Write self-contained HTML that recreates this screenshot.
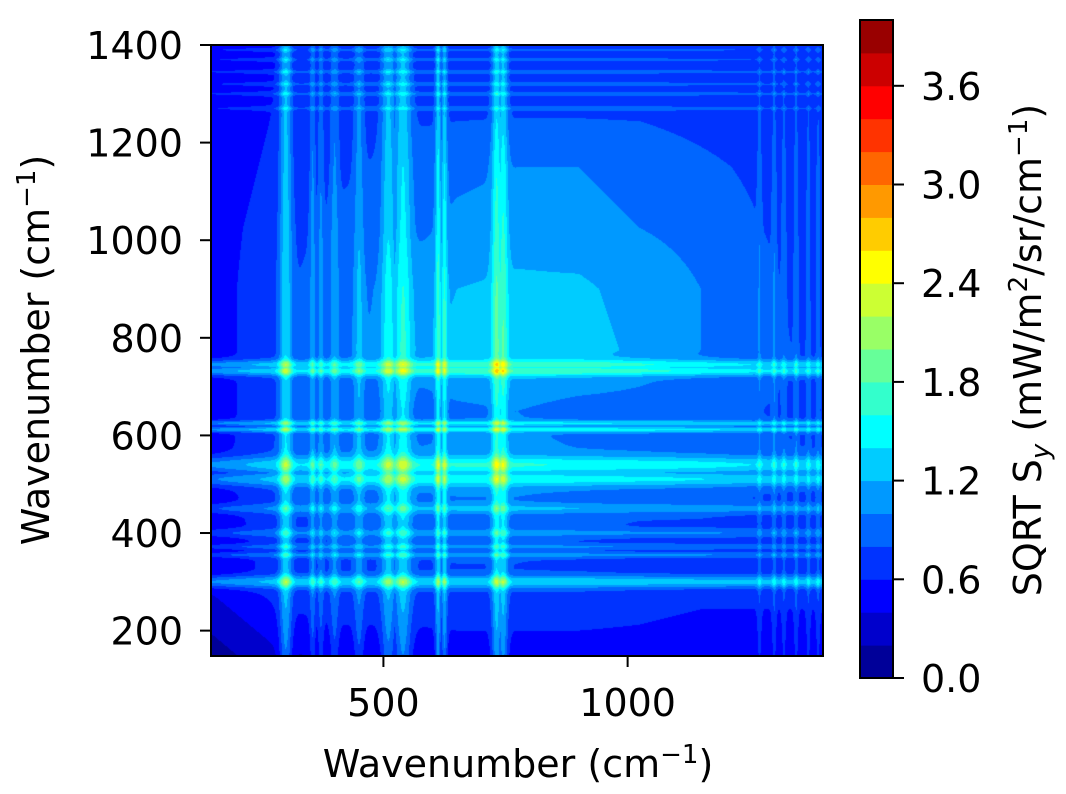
<!DOCTYPE html>
<html><head><meta charset="utf-8"><style>
body{margin:0;background:#fff;width:1066px;height:794px;overflow:hidden;position:relative;font-family:"Liberation Sans","DejaVu Sans",sans-serif}
canvas{position:absolute;left:211px;top:45px}
svg{position:absolute;left:0;top:0}
text{font-family:"DejaVu Sans","Liberation Sans",sans-serif;fill:#000}
</style></head><body>
<canvas id="hm" width="612" height="611"></canvas>
<svg id="ov" width="1066" height="794"></svg>
<script>
// ---- data ----
const xRange=[147,1400];
const yRange=[148,1400];
const levels=[0,0.2,0.4,0.6,0.8,1.0,1.2,1.4,1.6,1.8,2.0,2.2,2.4,2.6,2.8,3.0,3.2,3.4,3.6,3.8,4.0];
const xTicks=[500,1000];
const yTicks=[200,400,600,800,1000,1200,1400];
const cbTicks=[0.0,0.6,1.2,1.8,2.4,3.0,3.6];
const bgGridW=[150,275,400,525,650,775,900,1025,1150,1275,1400];
const bgRows=[ // y from 150 (first) to 1400 (last)
[0.1,0.35,0.45,0.45,0.5,0.5,0.5,0.5,0.45,0.45,0.45],
[0.4,0.65,0.75,0.75,0.75,0.75,0.75,0.7,0.65,0.65,0.65],
[0.45,0.7,0.8,0.8,0.85,0.85,0.8,0.75,0.75,0.7,0.7],
[0.5,0.8,0.95,1.05,1.1,1.1,1.05,1.0,0.95,0.85,0.8],
[0.5,0.75,0.9,0.85,0.95,1.0,0.9,0.9,0.85,0.8,0.75],
[0.5,0.75,0.9,1.1,1.25,1.3,1.3,1.15,1.0,0.85,0.75],
[0.5,0.75,0.9,1.05,1.2,1.25,1.25,1.1,1.0,0.85,0.7],
[0.5,0.7,0.85,0.9,1.05,1.1,1.05,1.0,0.95,0.8,0.7],
[0.45,0.65,0.75,0.85,0.95,1.0,1.0,0.95,0.85,0.75,0.7],
[0.4,0.6,0.7,0.75,0.75,0.75,0.75,0.75,0.7,0.65,0.6],
[0.4,0.55,0.65,0.65,0.65,0.65,0.65,0.65,0.65,0.6,0.6]];
const peakCenters=[300,355,372,400,450,510,540,612,625,732,745,1270,1300,1320,1345,1370,1390];
const peakAmps  =[1.0,0.5,0.4,0.45,0.5,0.8,0.9,0.9,0.8,1.0,0.9,0.3,0.35,0.3,0.35,0.3,0.3];
const peakWidths=[9,4,4,6,7,10,12,4,4,7,7,3,3,3,3,3,3];

// ---- scales ----
const PX=211,PY=45,PW=612,PH=611;
const sx=w=>PX+(w-xRange[0])/(xRange[1]-xRange[0])*PW;
const sy=w=>PY+PH-(w-yRange[0])/(yRange[1]-yRange[0])*PH;
function jet(t){const c=v=>Math.max(0,Math.min(1,v));return [c(1.5-Math.abs(4*t-3)),c(1.5-Math.abs(4*t-2)),c(1.5-Math.abs(4*t-1))].map(v=>Math.round(v*255));}
const nB=levels.length-1;
const bandColors=[];for(let i=0;i<nB;i++)bandColors.push(jet((i+0.5)/nB));
function prof(w){let m=0;for(let i=0;i<peakCenters.length;i++){const d=(w-peakCenters[i])/peakWidths[i];const v=peakAmps[i]*Math.exp(-0.5*d*d);if(v>m)m=v;}return m;}
function bg(x,y){
  const n=bgGridW.length;
  const fi=w=>{let t=(w-bgGridW[0])/(bgGridW[n-1]-bgGridW[0])*(n-1);t=Math.max(0,Math.min(n-1.0001,t));return t;};
  const tx=fi(x),ty=fi(y),i=Math.floor(tx),j=Math.floor(ty),fx=tx-i,fy=ty-j;
  const a=bgRows[j][i],b=bgRows[j][i+1],c=bgRows[j+1][i],d=bgRows[j+1][i+1];
  return (a*(1-fx)+b*fx)*(1-fy)+(c*(1-fx)+d*fx)*fy;
}
// ---- draw heatmap ----
const cv=document.getElementById('hm'),ctx=cv.getContext('2d');
const img=ctx.createImageData(PW,PH);
const px=[],py=[];
for(let i=0;i<PW;i++)px.push(prof(xRange[0]+(i+0.5)/PW*(xRange[1]-xRange[0])));
for(let j=0;j<PH;j++)py.push(prof(yRange[1]-(j+0.5)/PH*(yRange[1]-yRange[0])));
for(let j=0;j<PH;j++){const wy=yRange[1]-(j+0.5)/PH*(yRange[1]-yRange[0]);
 for(let i=0;i<PW;i++){const wx=xRange[0]+(i+0.5)/PW*(xRange[1]-xRange[0]);
  let v=bg(wx,wy)+0.6*(px[i]+py[j])+0.35*px[i]*py[j];
  let b=Math.floor((v-levels[0])/(levels[1]-levels[0]));b=Math.max(0,Math.min(nB-1,b));
  const c=bandColors[b],k=(j*PW+i)*4;img.data[k]=c[0];img.data[k+1]=c[1];img.data[k+2]=c[2];img.data[k+3]=255;}}
ctx.putImageData(img,0,0);

// ---- overlay ----
const NS='http://www.w3.org/2000/svg',svg=document.getElementById('ov');
function mk(t,a,txt){const e=document.createElementNS(NS,t);for(const k in a)e.setAttribute(k,a[k]);if(txt!==undefined)e.textContent=txt;svg.appendChild(e);return e;}
const FS=38,SFS=26;
let e=mk('rect',{x:PX,y:PY,width:PW,height:PH,fill:'none',stroke:'#000','stroke-width':2});


xTicks.forEach(t=>{const x=sx(t);
 let l=mk('line',{x1:x,x2:x,y1:PY+PH,y2:PY+PH+11,stroke:'#000','stroke-width':2});
 
 
 let s=mk('text',{x:x,y:716,'font-size':FS,'text-anchor':'middle'},String(t));
 
 });
yTicks.forEach(t=>{const y=sy(t);
 let l=mk('line',{x1:PX-11,x2:PX,y1:y,y2:y,stroke:'#000','stroke-width':2});
 
 
 let s=mk('text',{x:PX-28,y:y+14,'font-size':FS,'text-anchor':'end'},String(t));
 
 });
e=mk('text',{x:518,y:777,'font-size':FS,'text-anchor':'middle'});
e.innerHTML='Wavenumber (cm<tspan dy="-14" font-size="'+SFS+'">−1</tspan><tspan dy="14">)</tspan>';


e=mk('text',{x:0,y:0,'font-size':FS,'text-anchor':'middle',transform:'translate(49,350) rotate(-90)'});
e.innerHTML='Wavenumber (cm<tspan dy="-14" font-size="'+SFS+'">−1</tspan><tspan dy="14">)</tspan>';


// colorbar
const CX=860,CW=33,CT=20,CB=678;
const cy=v=>CB-(v-levels[0])/(levels[nB]-levels[0])*(CB-CT);
for(let i=0;i<nB;i++){const c=bandColors[i];
 let r=mk('rect',{x:CX,y:cy(levels[i+1]),width:CW,height:cy(levels[i])-cy(levels[i+1])+0.5,fill:`rgb(${c[0]},${c[1]},${c[2]})`});
 
 }
e=mk('rect',{x:CX,y:CT,width:CW,height:CB-CT,fill:'none',stroke:'#000','stroke-width':2});


cbTicks.forEach(t=>{const y=cy(t);
 let l=mk('line',{x1:CX+CW,x2:CX+CW+11,y1:y,y2:y,stroke:'#000','stroke-width':2});
 
 
 let s=mk('text',{x:CX+CW+28,y:y+14,'font-size':FS},t.toFixed(1));
 
 });
e=mk('text',{x:0,y:0,'font-size':FS,'text-anchor':'middle',transform:'translate(1041,350) rotate(-90)'});
e.innerHTML='SQRT S<tspan dy="8" font-size="'+SFS+'" font-style="italic">y</tspan><tspan dy="-8"> (mW/m</tspan><tspan dy="-14" font-size="'+SFS+'">2</tspan><tspan dy="14">/sr/cm</tspan><tspan dy="-14" font-size="'+SFS+'">−1</tspan><tspan dy="14">)</tspan>';


</script>
</body></html>
